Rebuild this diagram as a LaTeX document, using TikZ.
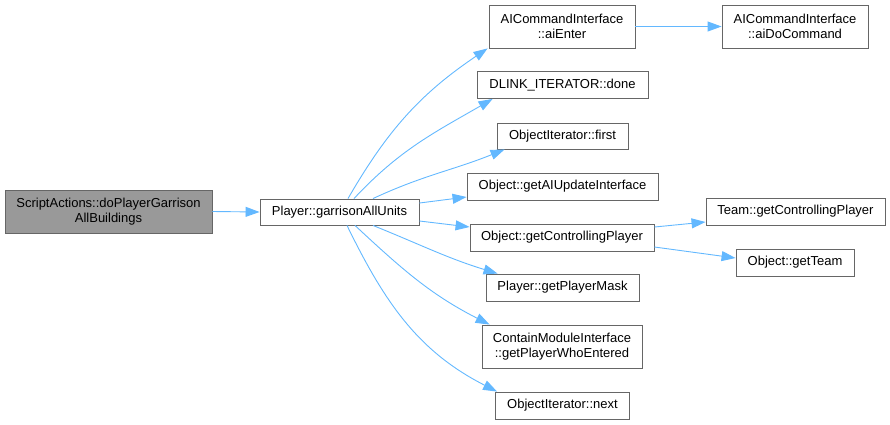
\documentclass[tikz,border=0pt]{standalone}
\usepackage{fontspec}
\setmainfont{Liberation Sans}
\usetikzlibrary{arrows.meta}
\definecolor{edgeblue}{HTML}{63B8FF}
\definecolor{boxborder}{HTML}{666666}
\definecolor{rootfill}{HTML}{999999}
\begin{document}
\begin{tikzpicture}[x=1pt,y=-1pt,
  box/.style={draw=boxborder, line width=0.9pt, fill=white, inner sep=0pt, align=center,
    font=\fontsize{13}{15}\selectfont},
  rootbox/.style={box, fill=rootfill},
  e/.style={draw=edgeblue, line width=0.9pt, -{Triangle[length=14pt,width=10pt]}}]
\useasboundingbox (0,0) rectangle (890,424);

\node[rootbox, minimum width=207pt, minimum height=43pt] (sa) at (108.5,211.5) {ScriptActions::doPlayerGarrison\\AllBuildings};
\node[box, minimum width=159pt, minimum height=26pt] (pg) at (339.5,212) {Player::garrisonAllUnits};

\node[box, minimum width=146pt, minimum height=43pt] (aie) at (562,26.5) {AICommandInterface\\::aiEnter};
\node[box, minimum width=146pt, minimum height=43pt] (aidc) at (795,26.5) {AICommandInterface\\::aiDoCommand};
\node[box, minimum width=171pt, minimum height=27pt] (dl) at (562.5,85) {DLINK\_ITERATOR::done};
\node[box, minimum width=131pt, minimum height=26pt] (oif) at (562.5,136) {ObjectIterator::first};
\node[box, minimum width=191pt, minimum height=27pt] (gai) at (562.5,186.5) {Object::getAIUpdateInterface};
\node[box, minimum width=184pt, minimum height=27pt] (gcp) at (562,237.5) {Object::getControllingPlayer};
\node[box, minimum width=179pt, minimum height=27pt] (tgcp) at (795.5,211.5) {Team::getControllingPlayer};
\node[box, minimum width=118pt, minimum height=27pt] (ogt) at (795,262.5) {Object::getTeam};
\node[box, minimum width=153pt, minimum height=27pt] (gpm) at (562.5,287.5) {Player::getPlayerMask};
\node[box, minimum width=160pt, minimum height=43pt] (cmi) at (562,346.5) {ContainModuleInterface\\::getPlayerWhoEntered};
\node[box, minimum width=134pt, minimum height=27pt] (oin) at (562.5,405.5) {ObjectIterator::next};

\draw[e] (sa.east) -- (pg.west);
\draw[e] ([xshift=8.5pt]pg.north) to[out=60,in=214] ([xshift=-1pt]aie.south west);
\draw[e] ([xshift=14.5pt]pg.north) to[out=47,in=210] ([xshift=16pt]dl.south west);
\draw[e] ([xshift=33.5pt]pg.north) to[out=25,in=202] ([xshift=8pt]oif.south west);
\draw[e] ([yshift=9pt]pg.east) -- ([yshift=-10.5pt]gai.west);
\draw[e] ([yshift=-9pt]pg.east) -- ([yshift=10.5pt]gcp.west);
\draw[e] ([xshift=33.5pt]pg.south) to[out=-22,in=163] ([xshift=12pt]gpm.north west);
\draw[e] ([xshift=15.5pt]pg.south) to[out=-43,in=153] ([xshift=8pt]cmi.north west);
\draw[e] ([xshift=7.5pt]pg.south) to[out=-64,in=153] ([xshift=2pt]oin.north west);
\draw[e] (aie.east) -- (aidc.west);
\draw[e] ([yshift=10.5pt]gcp.east) -- ([yshift=-10.5pt]tgcp.west);
\draw[e] ([yshift=-9.5pt]gcp.east) -- ([yshift=4.5pt]ogt.west);
\end{tikzpicture}
\end{document}
